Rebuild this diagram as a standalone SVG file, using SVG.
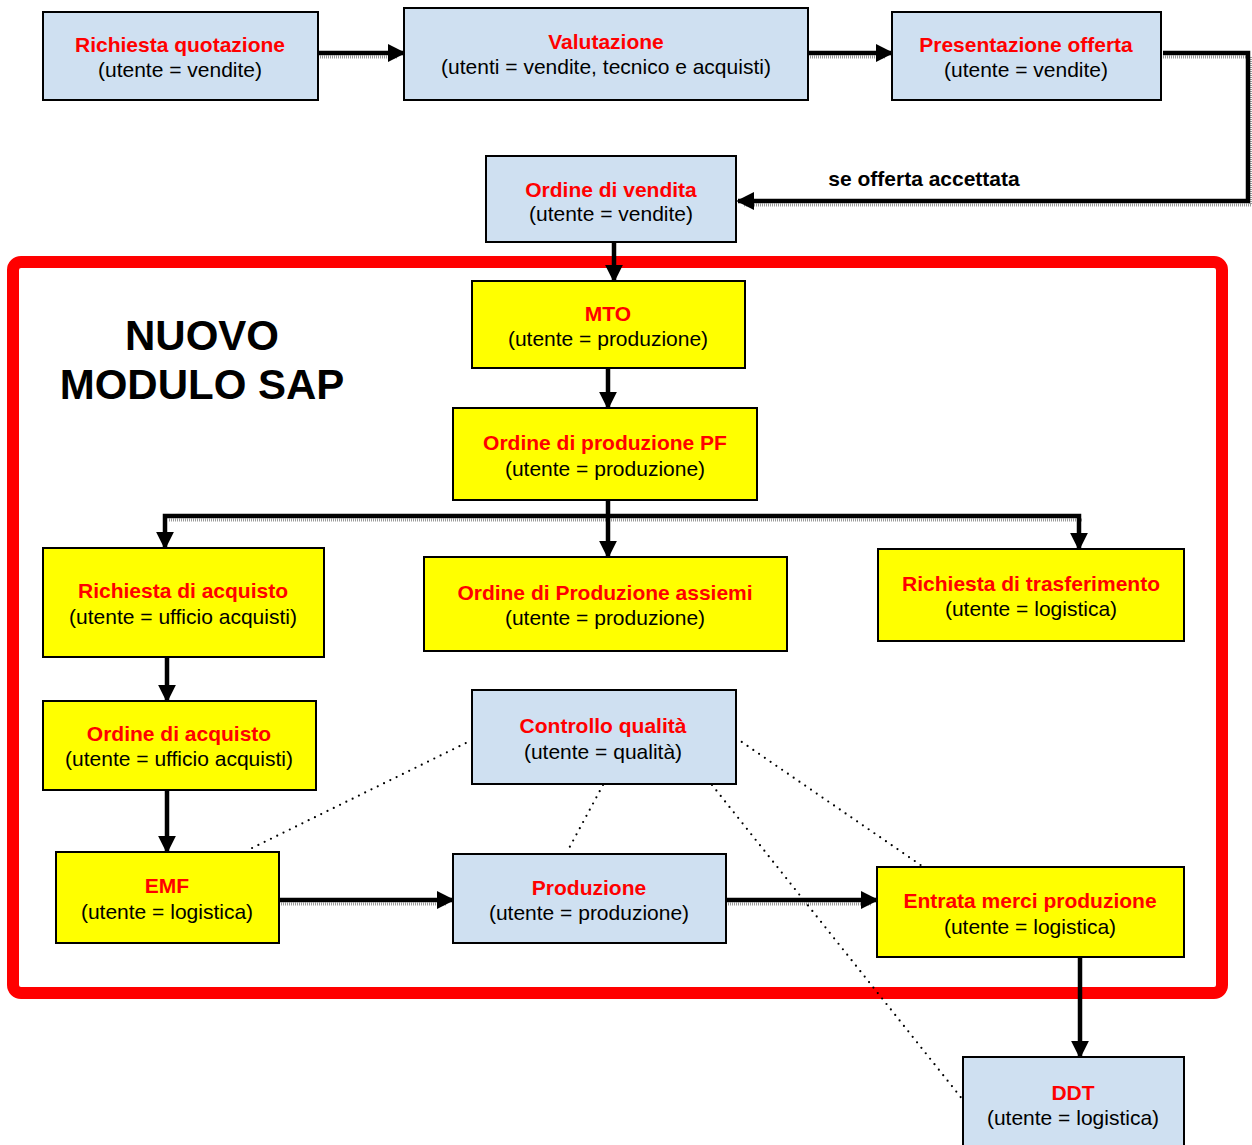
<svg xmlns="http://www.w3.org/2000/svg" width="1252" height="1145" viewBox="0 0 1252 1145">
<style>
.blue{fill:#cfe0f1;stroke:#000;stroke-width:2}
.yel{fill:#ffff00;stroke:#000;stroke-width:2}
.t{font-family:"Liberation Sans",Arial,sans-serif;font-size:21px;font-weight:bold;fill:#ff0000;text-anchor:middle}
.s{font-family:"Liberation Sans",Arial,sans-serif;font-size:21px;fill:#000;text-anchor:middle}
.c{fill:none;stroke:#000;stroke-width:4.5;marker-end:url(#ah)}
.cn{fill:none;stroke:#000;stroke-width:4.5}
.sh{fill:none;stroke:#9a9a9a;stroke-width:3;stroke-dasharray:1 1}
.d{fill:none;stroke:#000;stroke-width:2.2;stroke-dasharray:0 7;stroke-linecap:round}
</style>
<defs>
<marker id="ah" viewBox="0 0 10 10" refX="9" refY="5" markerWidth="4" markerHeight="4" orient="auto" markerUnits="strokeWidth">
<path d="M0,0 L10,5 L0,10 z" fill="#000"/>
</marker>
</defs>
<rect width="1252" height="1145" fill="#fff"/>
<rect x="13" y="262" width="1209" height="731" rx="8" fill="none" stroke="#ff0000" stroke-width="12"/>
<text x="202" y="350" font-family="Liberation Sans,Arial,sans-serif" font-size="42" font-weight="bold" text-anchor="middle">NUOVO</text>
<text x="202" y="399" font-family="Liberation Sans,Arial,sans-serif" font-size="42" font-weight="bold" text-anchor="middle">MODULO SAP</text>
<g id="connectors">
<path class="sh" d="M320,57 L398,57"/>
<path class="c" d="M318,53 L404,53"/>
<path class="sh" d="M810,57 L886,57"/>
<path class="c" d="M808,53 L892,53"/>
<path class="sh" d="M1163,57 L1251,57 L1251,205 L744,205"/>
<path class="c" d="M1163,53 L1248,53 L1248,201 L738,201"/>
<text x="924" y="186" font-family="Liberation Sans,Arial,sans-serif" font-size="21" font-weight="bold" text-anchor="middle">se offerta accettata</text>
<path class="c" d="M614,242 L614,281"/>
<path class="c" d="M608,368 L608,408"/>
<path class="sh" d="M169,520 L1082,520"/>
<path class="cn" d="M608,500 L608,516"/>
<path class="c" d="M608,516 L608,557"/>
<path class="c" d="M608,516 L165,516 L165,548"/>
<path class="c" d="M608,516 L1079,516 L1079,549"/>
<path class="c" d="M167,657 L167,701"/>
<path class="c" d="M167,790 L167,852"/>
<path class="sh" d="M281,904 L447,904"/>
<path class="c" d="M279,900 L453,900"/>
<path class="sh" d="M728,904 L871,904"/>
<path class="c" d="M726,900 L877,900"/>
<path class="c" d="M1080,957 L1080,1057"/>
<path class="d" d="M472,740 L248,850"/>
<path class="d" d="M603,785 L567,852"/>
<path class="d" d="M736,738 L922,866"/>
<path class="d" d="M712,785 L963,1100"/>
</g>
<g id="n1"><rect class="blue" x="43" y="12" width="275" height="88"/><text class="t" x="180" y="52">Richiesta quotazione</text><text class="s" x="180" y="77">(utente = vendite)</text></g>
<g id="n2"><rect class="blue" x="404" y="8" width="404" height="92"/><text class="t" x="606" y="49">Valutazione</text><text class="s" x="606" y="74">(utenti = vendite, tecnico e acquisti)</text></g>
<g id="n3"><rect class="blue" x="892" y="12" width="269" height="88"/><text class="t" x="1026" y="52">Presentazione offerta</text><text class="s" x="1026" y="77">(utente = vendite)</text></g>
<g id="n4"><rect class="blue" x="486" y="156" width="250" height="86"/><text class="t" x="611" y="197">Ordine di vendita</text><text class="s" x="611" y="221">(utente = vendite)</text></g>
<g id="n5"><rect class="yel" x="472" y="281" width="273" height="87"/><text class="t" x="608" y="321">MTO</text><text class="s" x="608" y="346">(utente = produzione)</text></g>
<g id="n6"><rect class="yel" x="453" y="408" width="304" height="92"/><text class="t" x="605" y="450">Ordine di produzione PF</text><text class="s" x="605" y="476">(utente = produzione)</text></g>
<g id="n7"><rect class="yel" x="43" y="548" width="281" height="109"/><text class="t" x="183" y="598">Richiesta di acquisto</text><text class="s" x="183" y="624">(utente = ufficio acquisti)</text></g>
<g id="n8"><rect class="yel" x="424" y="557" width="363" height="94"/><text class="t" x="605" y="600">Ordine di Produzione assiemi</text><text class="s" x="605" y="625">(utente = produzione)</text></g>
<g id="n9"><rect class="yel" x="878" y="549" width="306" height="92"/><text class="t" x="1031" y="591">Richiesta di trasferimento</text><text class="s" x="1031" y="616">(utente = logistica)</text></g>
<g id="n10"><rect class="yel" x="43" y="701" width="273" height="89"/><text class="t" x="179" y="741">Ordine di acquisto</text><text class="s" x="179" y="766">(utente = ufficio acquisti)</text></g>
<g id="n11"><rect class="blue" x="472" y="690" width="264" height="94"/><text class="t" x="603" y="733">Controllo qualità</text><text class="s" x="603" y="759">(utente = qualità)</text></g>
<g id="n12"><rect class="yel" x="56" y="852" width="223" height="91"/><text class="t" x="167" y="893">EMF</text><text class="s" x="167" y="919">(utente = logistica)</text></g>
<g id="n13"><rect class="blue" x="453" y="854" width="273" height="89"/><text class="t" x="589" y="895">Produzione</text><text class="s" x="589" y="920">(utente = produzione)</text></g>
<g id="n14"><rect class="yel" x="877" y="867" width="307" height="90"/><text class="t" x="1030" y="908">Entrata merci produzione</text><text class="s" x="1030" y="934">(utente = logistica)</text></g>
<g id="n15"><rect class="blue" x="963" y="1057" width="221" height="100"/><text class="t" x="1073" y="1100">DDT</text><text class="s" x="1073" y="1125">(utente = logistica)</text></g>
</svg>
